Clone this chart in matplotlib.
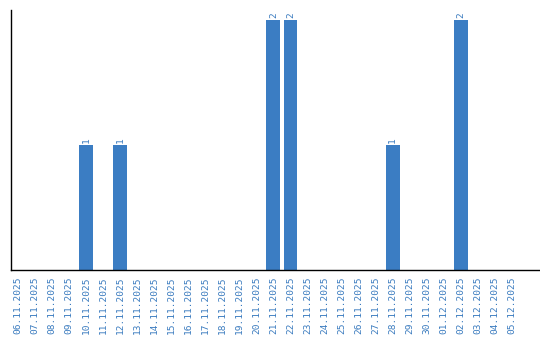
import matplotlib
matplotlib.use("Agg")
import matplotlib.pyplot as plt
import numpy as np

dates = ["06.11.2025", "07.11.2025", "08.11.2025", "09.11.2025", "10.11.2025",
         "11.11.2025", "12.11.2025", "13.11.2025", "14.11.2025", "15.11.2025",
         "16.11.2025", "17.11.2025", "18.11.2025", "19.11.2025", "20.11.2025",
         "21.11.2025", "22.11.2025", "23.11.2025", "24.11.2025", "25.11.2025",
         "26.11.2025", "27.11.2025", "28.11.2025", "29.11.2025", "30.11.2025",
         "01.12.2025", "02.12.2025", "03.12.2025", "04.12.2025", "05.12.2025"]
counts = [0, 0, 0, 0, 1, 0, 1, 0, 0, 0,
          0, 0, 0, 0, 0, 2, 2, 0, 0, 0,
          0, 0, 1, 0, 0, 0, 2, 0, 0, 0]

bar_color = "#3b7dc3"
text_color = "#3a7bbf"

fig = plt.figure(figsize=(5.4, 3.4), dpi=100)
ax = fig.add_axes([11 / 540, 70 / 340, 529 / 540, 260 / 340])

x = np.arange(len(dates))
bars = ax.bar(x, counts, width=0.82, color=bar_color)
for xi, c in zip(x, counts):
    if c > 0:
        ax.text(xi, c + 0.02, str(c), rotation=90, ha="center", va="bottom",
                color=text_color, fontsize=6.8, family="DejaVu Sans Mono")

ax.set_xlim(-0.41, 30.65)
ax.set_ylim(0, 2.08)
ax.set_xticks(x)
ax.set_xticklabels(dates, rotation=90, fontsize=6.8, color=text_color,
                   family="DejaVu Sans Mono")
ax.tick_params(axis="x", length=0, pad=5)
ax.set_yticks([])
ax.spines["top"].set_visible(False)
ax.spines["right"].set_visible(False)
ax.spines["left"].set_linewidth(1)
ax.spines["bottom"].set_linewidth(1)

fig.savefig("out.png", dpi=100)
